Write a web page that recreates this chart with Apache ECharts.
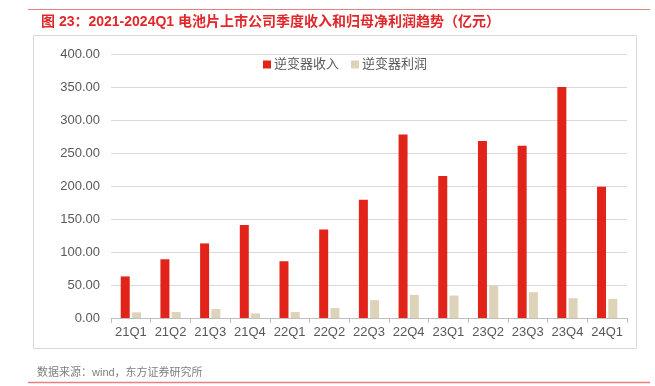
<!DOCTYPE html>
<html><head><meta charset="utf-8">
<script src="https://cdn.jsdelivr.net/npm/echarts@6/dist/echarts.min.js"></script>
<style>html,body{margin:0;padding:0;background:#fff}#c{width:655px;height:386px}</style>
</head><body><div id="c"></div>
<script>
var categories = ['21Q1','21Q2','21Q3','21Q4','22Q1','22Q2','22Q3','22Q4','23Q1','23Q2','23Q3','23Q4','24Q1'];
var revenue = [63, 89, 113, 141, 86, 134, 179, 278, 215, 268, 261, 350, 199];
var profit = [8.6, 9, 13.6, 7, 9, 15, 27, 35, 34, 49, 39, 30, 29];
var seriesNames = ['逆变器收入', '逆变器利润'];
var yTicks = {min: 0, max: 400, interval: 50};
var titleText = '图 23：2021-2024Q1 电池片上市公司季度收入和归母净利润趋势（亿元）';
var sourceText = '数据来源：wind，东方证券研究所';

var chart = echarts.init(document.getElementById('c'), null, {renderer: 'canvas'});
var font = '"Liberation Sans", "Noto Sans CJK SC", sans-serif';
chart.setOption({
  animation: false,
  textStyle: {fontFamily: font},
  title: {text: titleText, left: 36, top: 10,
    textStyle: {color: '#e0282a', fontSize: 14, fontWeight: 'bold', fontFamily: font}},
  graphic: [
    {type: 'line', shape: {x1: 28, y1: 9.5, x2: 650, y2: 9.5}, style: {stroke: '#e88080', lineWidth: 1}},
    {type: 'rect', shape: {x: 33.5, y: 35.5, width: 603, height: 313}, style: {fill: 'none', stroke: '#d9d9d9', lineWidth: 1}},
    {type: 'text', left: 37, top: 367, style: {text: sourceText, fill: '#7f7f7f', font: '11px ' + font}},
    {type: 'line', shape: {x1: 28, y1: 382.5, x2: 650, y2: 382.5}, style: {stroke: '#e88080', lineWidth: 1.5}}
  ],
  legend: {left: 258, top: 53, itemWidth: 8, itemHeight: 8, itemGap: 12, icon: 'rect',
    textStyle: {color: '#595959', fontSize: 13, padding: [0, 0, 0, -2]},
    data: seriesNames},
  grid: {left: 111, right: 28, top: 54, bottom: 68},
  xAxis: {type: 'category', data: categories,
    axisLine: {lineStyle: {color: '#bfbfbf'}},
    axisTick: {show: true, length: 5, lineStyle: {color: '#bfbfbf'}},
    axisLabel: {color: '#595959', fontSize: 13, margin: 8, interval: 0}},
  yAxis: {type: 'value', min: yTicks.min, max: yTicks.max, interval: yTicks.interval,
    axisLine: {show: false}, axisTick: {show: false},
    splitLine: {lineStyle: {color: '#d9d9d9'}},
    axisLabel: {color: '#595959', fontSize: 13, margin: 11, formatter: function(v){return v.toFixed(2);}}},
  series: [
    {name: seriesNames[0], type: 'bar', data: revenue, barWidth: 9, barGap: '25%',
      itemStyle: {color: '#e2231a'}},
    {name: seriesNames[1], type: 'bar', data: profit, barWidth: 9,
      itemStyle: {color: '#ddd3b8'}}
  ]
});
</script></body></html>
